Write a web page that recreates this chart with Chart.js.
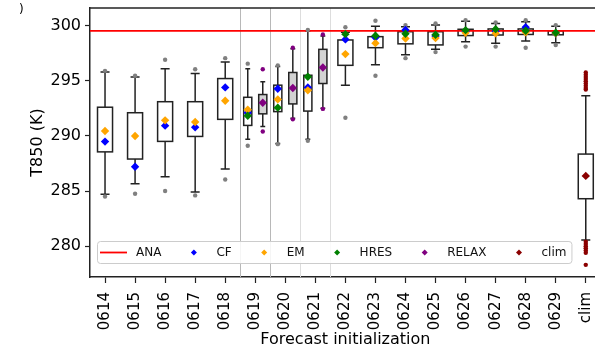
<!DOCTYPE html>
<html>
<head>
<meta charset="utf-8">
<script src="https://cdn.jsdelivr.net/npm/chart.js@4.4.0/dist/chart.umd.min.js"></script>
<style>
  html, body { margin: 0; padding: 0; background: #fff; overflow: hidden; }
  #wrap { width: 595px; height: 348px; overflow: hidden; }
</style>
</head>
<body>
<div id="wrap"><canvas id="chart" width="605" height="348"></canvas></div>
<script>
"use strict";

const labels = ["0614", "0615", "0616", "0617", "0618", "0619", "0620", "0621", "0622",
  "0623", "0624", "0625", "0626", "0627", "0628", "0629", "clim"];
const yTicks = [280, 285, 290, 295, 300];
const ana = 299.53;

// ensemble spread per initialization (whisker ends and quartiles)
const boxLow  = [284.7, 285.65, 286.3, 284.9, 287.0, 289.7, 289.3, 289.7, 294.6, 296.45, 297.35, 297.85, 298.55, 298.4, 298.6, 298.45, 280.55];
const boxQ1   = [288.55, 287.9, 289.5, 289.95, 291.5, 290.95, 292.2, 292.25, 296.4, 298.0, 298.35, 298.25, 299.1, 299.15, 299.2, 299.17, 284.3];
const boxQ3   = [292.6, 292.1, 293.1, 293.1, 295.2, 293.5, 294.6, 295.5, 298.7, 299.0, 299.45, 299.45, 299.67, 299.7, 299.7, 299.53, 288.35];
const boxHigh = [295.8, 295.35, 296.1, 295.65, 296.7, 296.1, 296.3, 299.5, 299.4, 299.95, 299.9, 300.05, 300.4, 300.2, 300.35, 299.95, 293.65];
const fliers = [
  [295.9, 284.5], [295.45, 284.75], [296.9, 285.0], [296.05, 284.6], [297.05, 286.05],
  [296.55, 289.1], [296.4, 289.25], [299.6, 289.55], [299.85, 291.65], [300.45, 295.45],
  [300.05, 297.05], [300.2, 297.6], [300.5, 298.1], [300.3, 298.1], [300.5, 298.0], [300.05, 298.25],
  [295.75, 295.55, 295.35, 295.15, 294.95, 294.75, 294.55, 294.35, 294.2,
   280.4, 280.2, 280.0, 279.8, 279.6, 279.4, 278.3]
];

// RELAX ensemble (only 0619-0621)
const relaxLow  = [null, null, null, null, null, 290.85, 291.6, 292.5, null, null, null, null, null, null, null, null, null];
const relaxQ1   = [null, null, null, null, null, 292.0, 292.9, 294.75, null, null, null, null, null, null, null, null, null];
const relaxQ3   = [null, null, null, null, null, 293.75, 295.75, 297.85, null, null, null, null, null, null, null, null, null];
const relaxHigh = [null, null, null, null, null, 294.9, 297.9, 299.05, null, null, null, null, null, null, null, null, null];
const relaxFliers = [[], [], [], [], [], [296.05, 290.4], [298.0, 291.5], [299.2, 292.45], [], [], [], [], [], [], [], [], []];

// single runs
const cf    = [289.48, 287.2, 290.93, 290.78, 294.4, 292.1, 294.28, 294.4, 298.75, 298.93, 299.6, 299.05, 299.5, 299.5, 299.85, 299.3, null];
const em    = [290.44, 289.99, 291.41, 291.26, 293.19, 292.38, 293.31, 294.13, 297.42, 298.41, 298.84, 298.87, 299.35, 299.3, 299.4, 299.3, null];
const hres  = [null, null, null, null, null, 291.83, 292.56, 295.36, 299.23, 299.08, 299.26, 299.17, 299.59, 299.68, 299.53, 299.35, null];
const relax = [null, null, null, null, null, 293.0, 294.35, 296.2, null, null, null, null, null, null, null, null, null];
const clim  = [null, null, null, null, null, null, null, null, null, null, null, null, null, null, null, null, 286.37];

const separators = [4.5, 5.5, 6.5, 7.5];
const FONT = "DejaVu Sans";

function boxX(i) {
  return relaxQ1[i] == null ? i : i - 0.25;
}

function points(arr, pos) {
  return arr.map((v, i) => v == null ? null : {x: pos(i), y: v}).filter(Boolean);
}

const greyFliers = [], climFliers = [], purpleFliers = [];
fliers.forEach((list, i) => list.forEach(v => {
  (labels[i] === "clim" ? climFliers : greyFliers).push({x: boxX(i), y: v});
}));
relaxFliers.forEach((list, i) => list.forEach(v => purpleFliers.push({x: i + 0.25, y: v})));

function drawBox(ctx, xs, ys, cx, w, lo, q1, q3, hi, fill) {
  const px = xs.getPixelForValue(cx);
  const half = xs.getPixelForValue(cx + w / 2) - px;
  const cap = half * 0.6;
  const yLo = ys.getPixelForValue(lo), yQ1 = ys.getPixelForValue(q1);
  const yQ3 = ys.getPixelForValue(q3), yHi = ys.getPixelForValue(hi);
  ctx.strokeStyle = "#222";
  ctx.lineWidth = 1.5;
  ctx.beginPath();
  ctx.moveTo(px, yLo); ctx.lineTo(px, yQ1);
  ctx.moveTo(px, yQ3); ctx.lineTo(px, yHi);
  ctx.moveTo(px - cap, yLo); ctx.lineTo(px + cap, yLo);
  ctx.moveTo(px - cap, yHi); ctx.lineTo(px + cap, yHi);
  ctx.stroke();
  ctx.fillStyle = fill;
  ctx.fillRect(px - half, yQ3, 2 * half, yQ1 - yQ3);
  ctx.strokeRect(px - half, yQ3, 2 * half, yQ1 - yQ3);
}

const boxPlugin = {
  id: "boxes",
  beforeDatasetsDraw(chart) {
    const {ctx, chartArea: a, scales: {x, y}} = chart;
    ctx.save();
    ctx.beginPath();
    ctx.rect(a.left, a.top, a.right - a.left, a.bottom - a.top);
    ctx.clip();
    separators.forEach((s, k) => {
      const px = Math.round(x.getPixelForValue(s)) + 0.5;
      ctx.strokeStyle = k < 2 ? "#b8b8b8" : "#dddddd";
      ctx.lineWidth = 1;
      ctx.beginPath();
      ctx.moveTo(px, a.top);
      ctx.lineTo(px, a.bottom);
      ctx.stroke();
    });
    labels.forEach((l, i) => {
      const split = relaxQ1[i] != null;
      drawBox(ctx, x, y, boxX(i), split ? 0.27 : 0.5, boxLow[i], boxQ1[i], boxQ3[i], boxHigh[i], "#fff");
      if (split) {
        drawBox(ctx, x, y, i + 0.25, 0.27, relaxLow[i], relaxQ1[i], relaxQ3[i], relaxHigh[i], "#d3d3d3");
      }
    });
    ctx.restore();
  },
  afterDraw(chart) {
    const {ctx, chartArea: a} = chart;
    ctx.save();
    // top frame
    ctx.strokeStyle = "#222";
    ctx.lineWidth = 1.5;
    ctx.beginPath();
    ctx.moveTo(a.left, a.top);
    ctx.lineTo(a.right, a.top);
    ctx.stroke();

    // legend inside the axes
    const items = chart.data.datasets.filter(d => d.label);
    ctx.font = "12px '" + FONT + "'";
    const left = a.left + 7, top = a.bottom - 36, h = 22;
    let cur = left + 3;
    const layout = items.map(d => {
      const it = {d: d, hx: cur, tx: cur + 36};
      cur = it.tx + ctx.measureText(d.label).width + 19;
      return it;
    });
    const right = cur - 19 + 5;
    ctx.fillStyle = "rgba(255,255,255,0.85)";
    ctx.strokeStyle = "#cccccc";
    ctx.lineWidth = 1;
    ctx.beginPath();
    ctx.roundRect(left + 0.5, top + 0.5, right - left, h, 3);
    ctx.fill();
    ctx.stroke();
    const cy = top + h / 2 + 0.5;
    layout.forEach(it => {
      if (it.d.showLine) {
        ctx.strokeStyle = it.d.borderColor;
        ctx.lineWidth = 1.8;
        ctx.beginPath();
        ctx.moveTo(it.hx, cy);
        ctx.lineTo(it.hx + 27, cy);
        ctx.stroke();
      } else {
        const r = 3, mx = it.hx + 13.5;
        ctx.fillStyle = it.d.backgroundColor;
        ctx.beginPath();
        ctx.moveTo(mx, cy - r);
        ctx.lineTo(mx + r, cy);
        ctx.lineTo(mx, cy + r);
        ctx.lineTo(mx - r, cy);
        ctx.closePath();
        ctx.fill();
      }
      ctx.fillStyle = "#111";
      ctx.textBaseline = "middle";
      ctx.fillText(it.d.label, it.tx, cy);
    });

    // panel label remnant at the corner
    ctx.fillStyle = "#000";
    ctx.font = "12px '" + FONT + "'";
    ctx.textBaseline = "alphabetic";
    ctx.fillText(")", 19, 13);
    ctx.restore();
  }
};

function diamond(label, color, data, order) {
  return {
    label: label, data: data, order: order,
    backgroundColor: color, borderColor: color, borderWidth: 0,
    pointStyle: "rectRot", pointRadius: 4.2, pointHoverRadius: 4.2
  };
}

function dots(data, color, order) {
  return {
    data: data, order: order,
    backgroundColor: color, borderColor: color, borderWidth: 0,
    pointStyle: "circle", pointRadius: 2.2, pointHoverRadius: 2.2
  };
}

const datasets = [
  {
    label: "ANA",
    data: [{x: -0.5, y: ana}, {x: labels.length - 0.5, y: ana}],
    showLine: true, borderColor: "#ff0000", borderWidth: 1.8,
    pointRadius: 0, order: 7
  },
  diamond("CF", "#0000ff", points(cf, boxX), 4),
  diamond("EM", "#ffa500", points(em, boxX), 3),
  diamond("HRES", "#008000", points(hres, boxX), 2),
  diamond("RELAX", "#800080", points(relax, i => i + 0.25), 1),
  diamond("clim", "#8b0000", points(clim, i => i), 1),
  dots(greyFliers, "#808080", 6),
  dots(purpleFliers, "#800080", 6),
  dots(climFliers, "#8b0000", 6)
];

new Chart("chart", {
  type: "scatter",
  data: {datasets: datasets},
  plugins: [boxPlugin],
  options: {
    responsive: false,
    animation: false,
    layout: {padding: {top: 8, left: 0, right: 0, bottom: 0}},
    plugins: {legend: {display: false}, tooltip: {enabled: false}},
    scales: {
      x: {
        type: "linear",
        min: -0.5,
        max: labels.length - 0.5,
        afterBuildTicks: s => { s.ticks = labels.map((l, i) => ({value: i})); },
        afterFit: s => { s.height = 71; s.paddingLeft = 0; s.paddingRight = 0; },
        ticks: {
          callback: v => labels[v],
          autoSkip: false, minRotation: 90, maxRotation: 90,
          color: "#000", padding: 9,
          font: {family: FONT, size: 15}
        },
        grid: {drawOnChartArea: false, tickLength: 6, color: "#222", tickWidth: 1.2},
        border: {color: "#222", width: 1.5},
        title: {
          display: true, text: "Forecast initialization", color: "#000",
          font: {family: FONT, size: 16}, padding: {top: 0, bottom: -1.5}
        }
      },
      y: {
        min: 277.2,
        max: 301.6,
        afterBuildTicks: s => { s.ticks = yTicks.map(v => ({value: v})); },
        afterFit: s => { s.width = 90; s.paddingTop = 0; s.paddingBottom = 0; },
        ticks: {color: "#000", padding: 4, font: {family: FONT, size: 16}},
        grid: {drawOnChartArea: false, tickLength: 5, color: "#222", tickWidth: 1.2},
        border: {color: "#222", width: 1.5},
        title: {
          display: true, text: "T850 (K)", color: "#000",
          font: {family: FONT, size: 16}, padding: {top: 28, bottom: 0}
        }
      }
    }
  }
});
</script>
</body>
</html>
